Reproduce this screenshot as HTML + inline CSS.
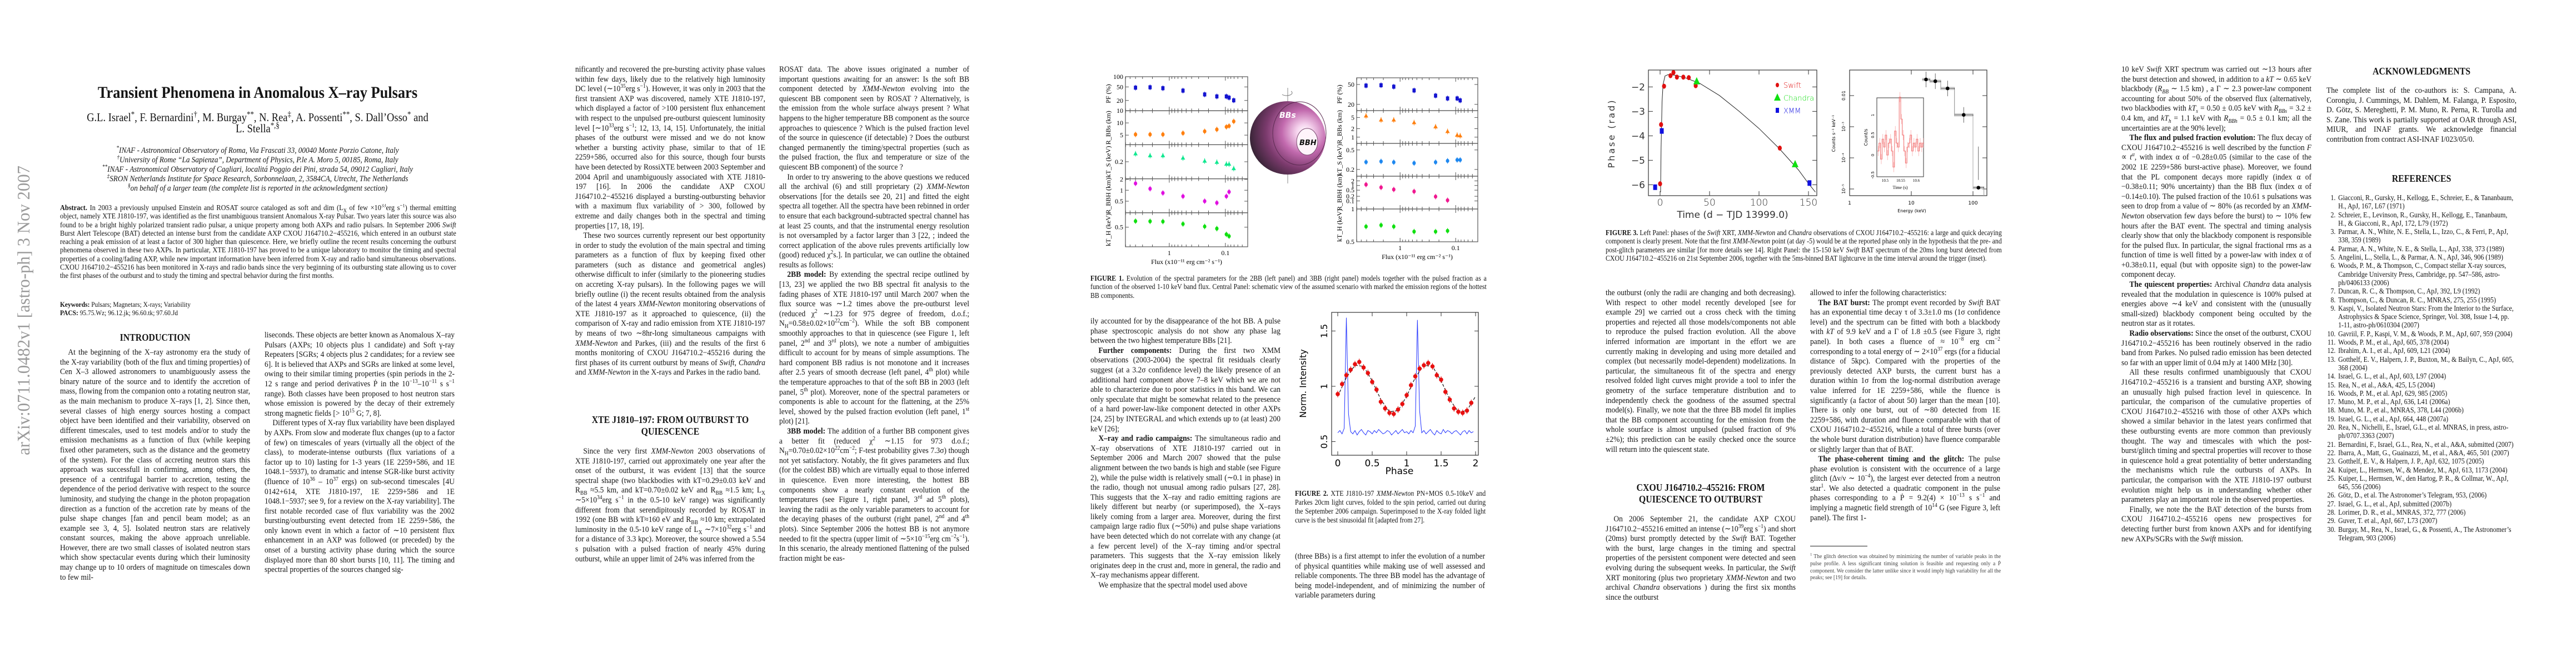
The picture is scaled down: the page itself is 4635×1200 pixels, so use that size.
<!DOCTYPE html>
<html lang="en"><head><meta charset="utf-8">
<style>
html,body{margin:0;padding:0;background:#fff;}
body{width:4635px;height:1200px;position:relative;overflow:hidden;font-family:"Liberation Serif",serif;color:#151515;}
.col{position:absolute;width:380px;transform:scaleX(0.9);transform-origin:0 0;font-size:15px;line-height:17.6px;text-align:justify;overflow:hidden;hyphens:auto;}
.col p{margin:0;text-indent:16px;}
.col p.ni{text-indent:0;}
.hd{position:absolute;width:342px;text-align:center;font-weight:bold;font-size:18px;line-height:21px;transform:scaleX(0.88);transform-origin:50% 0;}
.cap{position:absolute;transform:scaleX(0.88);transform-origin:0 0;font-size:13.5px;line-height:15.4px;text-align:justify;overflow:hidden;}
.ctr{position:absolute;left:0;width:927px;text-align:center;transform:scaleX(0.88);transform-origin:50% 0;}
sup,sub{font-size:70%;line-height:0;}
ol.refs{margin:0;padding-left:22px;}
ol.refs li{margin:0;padding-left:2px;}
</style></head>
<body>
<svg id="sidebar" width="80" height="1200" style="position:absolute;left:0;top:0">
<text x="0" y="0" transform="translate(53,819) rotate(-90)" font-family="Liberation Serif, serif" font-size="32" fill="#9a9a9a" textLength="521" lengthAdjust="spacingAndGlyphs">arXiv:0711.0482v1  [astro-ph]  3 Nov 2007</text>
</svg>

<!-- PAGE 1 -->
<div class="ctr" style="top:150px;font-size:30px;font-weight:bold;">Transient Phenomena in Anomalous X–ray Pulsars</div>
<div class="ctr" style="top:201px;font-size:21px;line-height:20px;">G.L. Israel<sup>*</sup>, F. Bernardini<sup>†</sup>, M. Burgay<sup>**</sup>, N. Rea<sup>‡</sup>, A. Possenti<sup>**</sup>, S. Dall’Osso<sup>*</sup> and<br>L. Stella<sup>*,§</sup></div>
<div class="ctr" style="top:263px;font-size:15px;line-height:17px;font-style:italic;">
<sup>*</sup>INAF - Astronomical Observatory of Roma, Via Frascati 33, 00040 Monte Porzio Catone, Italy<br>
<sup>†</sup>University of Rome “La Sapienza”, Department of Physics, P.le A. Moro 5, 00185, Roma, Italy<br>
<sup>**</sup>INAF - Astronomical Observatory of Cagliari, localitá Poggio dei Pini, strada 54, 09012 Cagliari, Italy<br>
<sup>‡</sup>SRON Netherlands Institute for Space Research, Sorbonnelaan, 2, 3584CA, Utrecht, The Netherlands<br>
<sup>§</sup>on behalf of a larger team (the complete list is reported in the acknowledgment section)</div>
<div class="cap" style="left:108px;top:367px;width:810px;height:160px;font-size:14px;line-height:15.3px;"><b>Abstract.</b> In 2003 a previously unpulsed Einstein and ROSAT source cataloged as soft and dim (L<sub>X</sub> of few ×10<sup>33</sup>erg s<sup>−1</sup>) thermal emitting object, namely XTE J1810-197, was identified as the first unambiguous transient Anomalous X-ray Pulsar. Two years later this source was also found to be a bright highly polarized transient radio pulsar, a unique property among both AXPs and radio pulsars. In September 2006 <i>Swift</i> Burst Alert Telescope (BAT) detected an intense burst from the candidate AXP CXOU J164710.2−455216, which entered in an outburst state reaching a peak emission of at least a factor of 300 higher than quiescence. Here, we briefly outline the recent results concerning the outburst phenomena observed in these two AXPs. In particular, XTE J1810-197 has proved to be a unique laboratory to monitor the timing and spectral properties of a cooling/fading AXP, while new important information have been inferred from X-ray and radio band simultaneous observations. CXOU J164710.2−455216 has been monitored in X-rays and radio bands since the very beginning of its outbursting state allowing us to cover the first phases of the outburst and to study the timing and spectral behavior during the first months.</div>
<div class="cap" style="left:108px;top:540px;width:600px;font-size:13px;line-height:15px;"><b>Keywords:</b> Pulsars; Magnetars; X-rays; Variability<br><b>PACS:</b> 95.75.Wz; 96.12.jk; 96.60.tk; 97.60.Jd</div>
<div class="hd" style="left:108px;top:597px;">INTRODUCTION</div>
<div class="col" style="left:108px;top:626px;height:463px;"><p>At the beginning of the X–ray astronomy era the study of the X-ray variability (both of the flux and timing properties) of Cen X–3 allowed astronomers to unambiguously assess the binary nature of the source and to identify the accretion of mass, flowing from the companion onto a rotating neutron star, as the main mechanism to produce X–rays [1, 2]. Since then, several classes of high energy sources hosting a compact object have been identified and their variability, observed on different timescales, used to test models and/or to study the emission mechanisms as a function of flux (while keeping fixed other parameters, such as the distance and the geometry of the system). For the class of accreting neutron stars this approach was successfull in confirming, among others, the presence of a centrifugal barrier to accretion, testing the dependence of the period derivative with respect to the source luminosity, and studying the change in the photon propagation direction as a function of the accretion rate by means of the pulse shape changes [fan and pencil beam model; as an example see 3, 4, 5]. Isolated neutron stars are relatively constant sources, making the above approach unreliable. However, there are two small classes of isolated neutron stars which show spectacular events during which their luminosity may change up to 10 orders of magnitude on timescales down to few mil-</p></div>
<div class="col" style="left:476px;top:595px;height:494px;"><p class="ni">liseconds. These objects are better known as Anomalous X–ray Pulsars (AXPs; 10 objects plus 1 candidate) and Soft γ-ray Repeaters [SGRs; 4 objects plus 2 candidates; for a review see 6]. It is believed that AXPs and SGRs are linked at some level, owing to their similar timing properties (spin periods in the 2-12 s range and period derivatives Ṗ in the 10<sup>−13</sup>–10<sup>−11</sup> s s<sup>−1</sup> range). Both classes have been proposed to host neutron stars whose emission is powered by the decay of their extremely strong magnetic fields [&gt; 10<sup>15</sup> G; 7, 8].</p><p>Different types of X-ray flux variability have been displayed by AXPs. From slow and moderate flux changes (up to a factor of few) on timescales of years (virtually all the object of the class), to moderate-intense outbursts (flux variations of a factor up to 10) lasting for 1-3 years (1E 2259+586, and 1E 1048.1−5937), to dramatic and intense SGR-like burst activity (fluence of 10<sup>36</sup> – 10<sup>37</sup> ergs) on sub-second timescales [4U 0142+614, XTE J1810-197, 1E 2259+586 and 1E 1048.1−5937; see 9, for a review on the X-ray variability]. The first notable recorded case of flux variability was the 2002 bursting/outbursting event detected from 1E 2259+586, the only known event in which a factor of ∼10 persistent flux enhancement in an AXP was followed (or preceded) by the onset of a bursting activity phase during which the source displayed more than 80 short bursts [10, 11]. The timing and spectral properties of the sources changed sig-</p></div>

<!-- PAGE 2 -->
<div class="col" style="left:1035px;top:117px;height:617px;"><p class="ni">nificantly and recovered the pre-bursting activity phase values within few days, likely due to the relatively high luminosity DC level (∼10<sup>35</sup>erg s<sup>−1</sup>). However, it was only in 2003 that the first transient AXP was discovered, namely XTE J1810-197, which displayed a factor of &gt;100 persistent flux enhancement with respect to the unpulsed pre-outburst quiescent luminosity level [∼10<sup>33</sup>erg s<sup>−1</sup>; 12, 13, 14, 15]. Unfortunately, the initial phases of the outburst were missed and we do not know whether a bursting activity phase, similar to that of 1E 2259+586, occurred also for this source, though four bursts have been detected by RossiXTE between 2003 September and 2004 April and unambiguously associated with XTE J1810-197 [16]. In 2006 the candidate AXP CXOU J164710.2−455216 displayed a bursting-outbursting behavior with a maximum flux variability of &gt; 300, followed by extreme and daily changes both in the spectral and timing properties [17, 18, 19].</p><p>These two sources currently represent our best opportunity in order to study the evolution of the main spectral and timing parameters as a function of flux by keeping fixed other parameters (such as distance and geometrical angles) otherwise difficult to infer (similarly to the pioneering studies on accreting X-ray pulsars). In the following pages we will briefly outline (i) the recent results obtained from the analysis of the latest 4 years <i>XMM-Newton</i> monitoring observations of XTE J1810-197 as it approached to quiescence, (ii) the comparison of X-ray and radio emission from XTE J1810-197 by means of two ∼8hr-long simultaneous campaigns with <i>XMM-Newton</i> and Parkes, (iii) and the results of the first 6 months monitoring of CXOU J164710.2−455216 during the first phases of its current outburst by means of <i>Swift</i>, <i>Chandra</i> and <i>XMM-Newton</i> in the X-rays and Parkes in the radio band.</p></div>
<div class="hd" style="left:1035px;top:745px;">XTE J1810–197: FROM OUTBURST TO QUIESCENCE</div>
<div class="col" style="left:1035px;top:804px;height:285px;"><p>Since the very first <i>XMM-Newton</i> 2003 observations of XTE J1810-197, carried out approximately one year after the onset of the outburst, it was evident [13] that the source spectral shape (two blackbodies with kT=0.29±0.03 keV and R<sub>BB</sub> ≈5.5 km, and kT=0.70±0.02 keV and R<sub>BB</sub> ≈1.5 km; L<sub>X</sub> ∼5×10<sup>34</sup>erg s<sup>−1</sup> in the 0.5-10 keV range) was significantly different from that serendipitously recorded by ROSAT in 1992 (one BB with kT≈160 eV and R<sub>BB</sub> ≈10 km; extrapolated luminosity in the 0.5-10 keV range of L<sub>X</sub> ∼7×10<sup>32</sup>erg s<sup>−1</sup> and for a distance of 3.3 kpc). Moreover, the source showed a 5.54 s pulsation with a pulsed fraction of nearly 45% during outburst, while an upper limit of 24% was inferred from the</p></div>
<div class="col" style="left:1402px;top:117px;height:972px;"><p class="ni">ROSAT data. The above issues originated a number of important questions awaiting for an answer: Is the soft BB component detected by <i>XMM-Newton</i> evolving into the quiescent BB component seen by ROSAT ? Alternatively, is the emission from the whole surface always present ? What happens to the higher temperature BB component as the source approaches to quiescence ? Which is the pulsed fraction level of the source in quiescence (if detectable) ? Does the outburst changed permanently the timing/spectral properties (such as the pulsed fraction, the flux and temperature or size of the quiescent BB component) of the source ?</p><p>In order to try answering to the above questions we reduced all the archival (6) and still proprietary (2) <i>XMM-Newton</i> observations [for the details see 20, 21] and fitted the eight spectra all together. All the spectra have been rebinned in order to ensure that each background-subtracted spectral channel has at least 25 counts, and that the instrumental energy resolution is not oversampled by a factor larger than 3 [22, ; indeed the correct application of the above rules prevents artificially low (good) reduced χ<sup>2</sup>s.]. In particular, we can outline the obtained results as follows:</p><p><b>2BB model:</b> By extending the spectral recipe outlined by [13, 23] we applied the two BB spectral fit analysis to the fading phases of XTE J1810-197 until March 2007 when the flux source was ∼1.2 times above the pre-outburst level (reduced χ<sup>2</sup> ∼1.23 for 975 degree of freedom, d.o.f.; N<sub>H</sub>=0.58±0.02×10<sup>22</sup>cm<sup>−2</sup>). While the soft BB component smoothly approaches to that in quiescence (see Figure 1, left panel, 2<sup>nd</sup> and 3<sup>rd</sup> plots), we note a number of ambiguities difficult to account for by means of simple assumptions. The hard component BB radius is not monotone and it increases after 2.5 years of smooth decrease (left panel, 4<sup>th</sup> plot) while the temperature approaches to that of the soft BB in 2003 (left panel, 5<sup>th</sup> plot). Moreover, none of the spectral parameters or components is able to account for the flattening, at the 25% level, showed by the pulsed fraction evolution (left panel, 1<sup>st</sup> plot) [21].</p><p><b>3BB model:</b> The addition of a further BB component gives a better fit (reduced χ<sup>2</sup> ∼1.15 for 973 d.o.f.; N<sub>H</sub>=0.70±0.02×10<sup>22</sup>cm<sup>−2</sup>; F-test probability gives 7.3σ) though not yet satisfactory. Notably, the fit gives parameters and flux (for the coldest BB) which are virtually equal to those inferred in quiescence. Even more interesting, the hottest BB components show a nearly constant evolution of the temperatures (see Figure 1, right panel, 3<sup>rd</sup> ad 5<sup>th</sup> plots), leaving the radii as the only variable parameters to account for the decaying phases of the outburst (right panel, 2<sup>nd</sup> and 4<sup>th</sup> plots). Since September 2006 the hottest BB is not anymore needed to fit the spectra (upper limit of ∼5×10<sup>−15</sup>erg cm<sup>−2</sup>s<sup>−1</sup>). In this scenario, the already mentioned flattening of the pulsed fraction might be eas-</p></div>

<!-- PAGE 3 -->
<div class="cap" style="left:1962px;top:493px;width:810px;height:48px;"><b>FIGURE 1.</b> Evolution of the spectral parameters for the 2BB (left panel) and 3BB (right panel) models together with the pulsed fraction as a function of the observed 1-10 keV band flux. Central Panel: schematic view of the assumed scenario with marked the emission regions of the hottest BB components.</div>
<div class="col" style="left:1962px;top:570px;height:519px;"><p class="ni">ily accounted for by the disappearance of the hot BB. A pulse phase spectroscopic analysis do not show any phase lag between the two highest temperature BBs [21].</p><p><b>Further components:</b> During the first two XMM observations (2003-2004) the spectral fit residuals clearly suggest (at a 3.2σ confidence level) the likely presence of an additional hard component above 7–8 keV which we are not able to characterize due to poor statistics in this band. We can only speculate that might be somewhat related to the presence of a hard power-law-like component detected in other AXPs [24, 25] by INTEGRAL and which extends up to (at least) 200 keV [26];</p><p><b>X–ray and radio campaigns:</b> The simultaneous radio and X–ray observations of XTE J1810-197 carried out in September 2006 and March 2007 showed that the pulse alignment between the two bands is high and stable (see Figure 2), while the pulse width is relatively small (∼0.1 in phase) in the radio, though not unusual among radio pulsars [27, 28]. This suggests that the X–ray and radio emitting ragions are likely different but nearby (or superimposed), the X–rays likely coming from a larger area. Moreover, during the first campaign large radio flux (∼50%) and pulse shape variations have been detected which do not correlate with any change (at a few percent level) of the X–ray timing and/or spectral parameters. This suggests that the X–ray emission likely originates deep in the crust and, more in general, the radio and X–ray mechanisms appear different.</p><p>We emphasize that the spectral model used above</p></div>
<div class="cap" style="left:2330px;top:880px;width:390px;height:82px;line-height:16px;"><b>FIGURE 2.</b> XTE J1810-197 <i>XMM-Newton</i> PN+MOS 0.5-10keV and Parkes 20cm light curves, folded to the spin period, carried out during the September 2006 campaign. Superimposed to the X-ray folded light curve is the best sinusoidal fit [adapted from 27].</div>
<div class="col" style="left:2330px;top:993px;height:96px;"><p class="ni">(three BBs) is a first attempt to infer the evolution of a number of physical quantities while making use of well assessed and reliable components. The three BB model has the advantage of being model-independent, and of minimizing the number of variable parameters during</p></div>

<!-- PAGE 4 -->
<div class="cap" style="left:2889px;top:411px;width:810px;height:80px;"><b>FIGURE 3.</b> Left Panel: phases of the <i>Swift</i> XRT, <i>XMM-Newton</i> and <i>Chandra</i> observations of CXOU J164710.2−455216: a large and quick decaying component is clearly present. Note that the first <i>XMM-Newton</i> point (at day -5) would be at the reported phase only in the hypothesis that the pre- and post-glitch parameters are similar [for more details see 14]. Right Panel: the 15-150 keV <i>Swift</i> BAT spectrum of the 20ms long burst detected from CXOU J164710.2−455216 on 21st September 2006, together with the 5ms-binned BAT lightcurve in the time interval around the trigger (inset).</div>
<div class="col" style="left:2889px;top:519px;height:316px;"><p class="ni">the outburst (only the radii are changing and both decreasing). With respect to other model recently developed [see for example 29] we carried out a cross check with the timing properties and rejected all those models/components not able to reproduce the pulsed fraction evolution. All the above inferred information are important in the effort we are currently making in developing and using more detailed and complex (but necessarily model-dependent) modelizations. In particular, the simultaneous fit of the spectra and energy resolved folded light curves might provide a tool to infer the geometry of the surface temperature distribution and to independently check the goodness of the assumed spectral model(s). Finally, we note that the three BB model fit implies that the BB component accounting for the emission from the whole sourface is almost unpulsed (pulsed fraction of 9%±2%); this prediction can be easily checked once the source will return into the quiescent state.</p></div>
<div class="hd" style="left:2889px;top:867px;">CXOU J164710.2–455216: FROM QUIESCENCE TO OUTBURST</div>
<div class="col" style="left:2889px;top:926px;height:163px;"><p>On 2006 September 21, the candidate AXP CXOU J164710.2−455216 emitted an intense (∼10<sup>39</sup>erg s<sup>−1</sup>) and short (20ms) burst promptly detected by the <i>Swift</i> BAT. Together with the burst, large changes in the timing and spectral properties of the persistent component were detected and seen evolving during the subsequent weeks. In particular, the <i>Swift</i> XRT monitoring (plus two proprietary <i>XMM-Newton</i> and two archival <i>Chandra</i> observations ) during the first six months since the outburst</p></div>
<div class="col" style="left:3257px;top:519px;height:440px;"><p class="ni">allowed to infer the following characteristics:</p><p><b>The BAT burst:</b> The prompt event recorded by <i>Swift</i> BAT has an exponential time decay τ of 3.3±1.0 ms (1σ confidence level) and the spectrum can be fitted with both a blackbody with <i>kT</i> of 9.9 keV and a Γ of 1.8 ±0.5 (see Figure 3, right panel). In both cases a fluence of ≈ 10<sup>−8</sup> erg cm<sup>−2</sup> corresponding to a total energy of ∼ 2×10<sup>37</sup> ergs (for a fiducial distance of 5kpc). Compared with the properties of the previously detected AXP bursts, the current burst has a duration within 1σ from the log-normal distribution average value inferred for 1E 2259+586, while the fluence is significantly (a factor of about 50) larger than the mean [10]. There is only one burst, out of ∼80 detected from 1E 2259+586, with duration and fluence comparable with that of CXOU J164710.2−455216, while a total of three bursts (over the whole burst duration distribution) have fluence comparable or slightly larger than that of BAT.</p><p><b>The phase-coherent timing and the glitch:</b> The pulse phase evolution is consistent with the occurrence of a large glitch (Δν/ν ∼ 10<sup>−4</sup>), the largest ever detected from a neutron star<sup>1</sup>. We also detected a quadratic component in the pulse phases corresponding to a Ṗ = 9.2(4) × 10<sup>−13</sup> s s<sup>−1</sup> and implying a magnetic field strength of 10<sup>14</sup> G (see Figure 3, left panel). The first 1-</p></div>
<div style="position:absolute;left:3257px;top:982px;width:103px;height:1px;background:#222;"></div>
<div class="cap" style="left:3257px;top:995px;width:390px;font-size:11px;line-height:12.8px;color:#444;"><sup>1</sup> The glitch detection was obtained by minimizing the number of variable peaks in the pulse profile. A less significant timing solution is feasible and requesting only a Ṗ component. We consider the latter unlike since it would imply high variability for all the peaks; see [19] for details.</div>

<!-- PAGE 5 -->
<div class="col" style="left:3817px;top:117px;height:952px;"><p class="ni">10 keV <i>Swift</i> XRT spectrum was carried out ∼13 hours after the burst detection and showed, in addition to a <i>kT</i> ∼ 0.65 keV blackbody (<i>R<sub>BB</sub></i> ∼ 1.5 km) , a Γ ∼ 2.3 power-law component accounting for about 50% of the observed flux (alternatively, two blackbodies with <i>kT<sub>s</sub></i> = 0.50 ± 0.05 keV with <i>R<sub>BBs</sub></i> = 3.2 ± 0.4 km, and <i>kT<sub>h</sub></i> = 1.1 keV with <i>R<sub>BBh</sub></i> = 0.5 ± 0.1 km; all the uncertainties are at the 90% level);</p><p><b>The flux and pulsed fraction evolution:</b> The flux decay of CXOU J164710.2−455216 is well described by the function <i>F</i> ∝ <i>t<sup>α</sup></i>, with index α of −0.28±0.05 (similar to the case of the 2002 1E 2259+586 burst-active phase). Moreover, we found that the PL component decays more rapidly (index α of −0.38±0.11; 90% uncertainty) than the BB flux (index α of −0.14±0.10). The pulsed fraction of the 10.61 s pulsations was seen to drop from a value of ∼ 80% (as recorded by an <i>XMM-Newton</i> observation few days before the burst) to ∼ 10% few hours after the BAT event. The spectral and timing analysis clearly show that only the blackbody component is responsible for the pulsed flux. In particular, the signal fractional rms as a function of time is well fitted by a power-law with index α of +0.38±0.11, equal (but with opposite sign) to the power-law component decay.</p><p><b>The quiescent properties:</b> Archival <i>Chandra</i> data analysis revealed that the modulation in quiescence is 100% pulsed at energies above ∼4 keV and consistent with the (unusually small-sized) blackbody component being occulted by the neutron star as it rotates.</p><p><b>Radio observations:</b> Since the onset of the outburst, CXOU J164710.2−455216 has been routinely observed in the radio band from Parkes. No pulsed radio emission has been detected so far with an upper limit of 0.04 mJy at 1400 MHz [30].</p><p>All these results confirmed unambiguously that CXOU J164710.2−455216 is a transient and bursting AXP, showing an unusually high pulsed fraction level in quiescence. In particular, the comparison of the cumulative properties of CXOU J164710.2−455216 with those of other AXPs which showed a similar behavior in the latest years confirmed that these outbursting events are more common than previously thought. The way and timescales with which the post-burst/glitch timing and spectral properties will recover to those in quiescence hold a great potentiality of better understanding the mechanisms which rule the outbursts of AXPs. In particular, the comparison with the XTE J1810-197 outburst evolution might help us in understanding whether other parameters play an important role in the observed properties.</p><p>Finally, we note the the BAT detection of the bursts from CXOU J164710.2−455216 opens new prospectives for detecting further burst from known AXPs and for identifying new AXPs/SGRs with the <i>Swift</i> mission.</p></div>
<div class="hd" style="left:4186px;top:118px;">ACKNOWLEDGMENTS</div>
<div class="col" style="left:4186px;top:155px;height:125px;"><p class="ni">The complete list of the co-authors is: S. Campana, A. Corongiu, J. Cummings, M. Dahlem, M. Falanga, P. Esposito, D. Götz, S. Mereghetti, P. M. Muno, R. Perna, R. Turolla and S. Zane. This work is partially supported at OAR through ASI, MIUR, and INAF grants. We acknowledge financial contribution from contract ASI-INAF I/023/05/0.</p></div>
<div class="hd" style="left:4186px;top:311px;">REFERENCES</div>
<div class="cap" style="left:4186px;top:348px;width:388px;height:716px;font-size:13.5px;line-height:15.3px;text-align:left;">
<ol class="refs">
<li>Giacconi, R., Gursky, H., Kellogg, E., Schreier, E., &amp; Tananbaum, H., ApJ, 167, L67 (1971)</li>
<li>Schreier, E., Levinson, R., Gursky, H., Kellogg, E., Tananbaum, H., &amp; Giacconi, R., ApJ, 172, L79 (1972)</li>
<li>Parmar, A. N., White, N. E., Stella, L., Izzo, C., &amp; Ferri, P., ApJ, 338, 359 (1989)</li>
<li>Parmar, A. N., White, N. E., &amp; Stella, L., ApJ, 338, 373 (1989)</li>
<li>Angelini, L., Stella, L., &amp; Parmar, A. N., ApJ, 346, 906 (1989)</li>
<li>Woods, P. M., &amp; Thompson, C., Compact stellar X-ray sources, Cambridge University Press, Cambridge, pp. 547–586, astro-ph/0406133 (2006)</li>
<li>Duncan, R. C., &amp; Thompson, C., ApJ, 392, L9 (1992)</li>
<li>Thompson, C., &amp; Duncan, R. C., MNRAS, 275, 255 (1995)</li>
<li>Kaspi, V., Isolated Neutron Stars: From the Interior to the Surface, Astrophysics &amp; Space Science, Springer, Vol. 308, Issue 1-4, pp. 1-11, astro-ph/0610304 (2007)</li>
<li>Gavriil, F. P., Kaspi, V. M., &amp; Woods, P. M., ApJ, 607, 959 (2004)</li>
<li>Woods, P. M., et al., ApJ, 605, 378 (2004)</li>
<li>Ibrahim, A. I., et al., ApJ, 609, L21 (2004)</li>
<li>Gotthelf, E. V., Halpern, J. P., Buxton, M., &amp; Bailyn, C., ApJ, 605, 368 (2004)</li>
<li>Israel, G. L., et al., ApJ, 603, L97 (2004)</li>
<li>Rea, N., et al., A&amp;A, 425, L5 (2004)</li>
<li>Woods, P. M., et al. ApJ, 629, 985 (2005)</li>
<li>Muno, M. P., et al., ApJ, 636, L41 (2006a)</li>
<li>Muno, M. P., et al., MNRAS, 378, L44 (2006b)</li>
<li>Israel, G. L., et al., ApJ, 664, 448 (2007a)</li>
<li>Rea, N., Nichelli, E., Israel, G.L., et al. MNRAS, in press, astro-ph/0707.3363 (2007)</li>
<li>Bernardini, F., Israel, G.L., Rea, N., et al., A&amp;A, submitted (2007)</li>
<li>Ibarra, A., Matt, G., Guainazzi, M., et al., A&amp;A, 465, 501 (2007)</li>
<li>Gotthelf, E. V., &amp; Halpern, J. P., ApJ, 632, 1075 (2005)</li>
<li>Kuiper, L., Hermsen, W., &amp; Mendez, M., ApJ, 613, 1173 (2004)</li>
<li>Kuiper, L., Hermsen, W., den Hartog, P. R., &amp; Collmar, W., ApJ, 645, 556 (2006)</li>
<li>Götz, D., et al. The Astronomer’s Telegram, 953, (2006)</li>
<li>Israel, G. L., et al., ApJ, submitted (2007b)</li>
<li>Lorimer, D. R., et al., MNRAS, 372, 777 (2006)</li>
<li>Guver, T. et al., ApJ, 667, L73 (2007)</li>
<li>Burgay, M., Rea, N., Israel, G., &amp; Possenti, A., The Astronomer’s Telegram, 903 (2006)</li>
</ol></div>

<svg id="figs" width="4635" height="1200" style="position:absolute;left:0;top:0;" font-family="Liberation Serif, serif">
<defs>
<radialGradient id="sph" cx="0.72" cy="0.42" r="0.85">
<stop offset="0" stop-color="#ffffff"/><stop offset="0.12" stop-color="#f6d4ee"/><stop offset="0.35" stop-color="#c26aae"/><stop offset="0.6" stop-color="#7a3a6c"/><stop offset="0.85" stop-color="#3a2538"/><stop offset="1" stop-color="#1a1e28"/>
</radialGradient>
</defs>
</svg>

<script>
// ---------- Figure 1 data ----------
const fluxLeft=[4.0,2.2,1.3,0.57,0.234,0.142,0.096,0.086,0.071];
const pfLeft=[47.6,48.8,45.9,39.0,30.1,26.3,26.3,24.2,20.2];
const rbbsLeft=[5.2,5.2,5.2,5.6,6.2,6.9,8.0,8.4,10.9];
const ktsLeft=[0.247,0.236,0.236,0.222,0.204,0.197,0.186,0.186,0.160];
const rbbhLeft=[1.54,1.10,0.84,0.68,0.50,0.45,0.68,0.90];
const kthLeft=[0.592,0.589,0.586,0.549,0.510,0.478,0.390,0.362];
const fluxRight=[4.1,2.2,1.3,0.56,0.23,0.14,0.094,0.083];
const pfRight=[47.5,48.3,45.2,38.0,29.9,26.3,26.3,24.0];
const rbbsRight=[5.7,4.1,4.1,3.3,2.35,1.6,1.18,1.12];
const ktsRight=[0.283,0.292,0.281,0.270,0.281,0.300,0.313,0.313];
const rbbhRight=[1.15,0.75,0.55,0.41,0.19,0.11];
const kthRight=[0.69,0.71,0.69,0.62,0.62,0.63];
const fluxTickLabels=[1,0.1];
// ---------- Figure 2 data ----------
const xrayPhase=[0,0.0625,0.125,0.1875,0.25,0.3125,0.375,0.4375,0.5,0.5625,0.625,0.6875,0.75,0.8125,0.875,0.9375,1,1.0625,1.125,1.1875,1.25,1.3125,1.375,1.4375,1.5,1.5625,1.625,1.6875,1.75,1.8125,1.875,1.9375];
const xrayVals=[0.93,1.02,1.10,1.15,1.20,1.22,1.17,1.12,1.04,0.97,0.86,0.80,0.76,0.75,0.79,0.84,0.92,1.01,1.09,1.16,1.19,1.21,1.18,1.10,1.06,0.95,0.88,0.80,0.77,0.76,0.78,0.85];
const fitPhase=[0,0.125,0.25,0.375,0.5,0.625,0.75,0.875,1,1.125,1.25,1.375,1.5,1.625,1.75,1.875,2];
const fitVals=[0.91,1.08,1.19,1.18,1.05,0.88,0.77,0.78,0.91,1.08,1.19,1.18,1.05,0.88,0.77,0.78,0.91];
const radioVals=[0.58,0.60,0.57,0.62,1.62,0.75,0.59,0.57,0.60,0.56,0.59,0.61,0.58,0.56,0.60,0.59,0.57,0.60,0.58,0.61,0.59,0.57,0.58,0.60,0.59,0.56,0.58,0.60,0.57,0.59,0.61,0.58,
0.59,0.57,0.60,0.58,0.64,1.60,0.78,0.58,0.60,0.57,0.59,0.61,0.58,0.56,0.60,0.58,0.57,0.61,0.58,0.60,0.59,0.57,0.59,0.60,0.58,0.56,0.59,0.60,0.57,0.60,0.58,0.59];
const phaseTicks=[0,0.5,1,1.5,2];
const normTicks=[0.5,1,1.5];
// ---------- Figure 3 data ----------
const swiftT=[0,1,4,10.5,13.5,17,23.5,29,36,121];
const swiftP=[-5.96,-3.54,-1.97,-1.54,-1.41,-1.6,-1.6,-1.62,-1.95,-4.5];
const chandraT=[37,136.5];
const chandraP=[-1.78,-5.17];
const xmmT=[-5,1.7,151];
const xmmP=[-6.1,-3.8,-5.93];
const modelT=[0.5,1,2,3,5,8,15,25,40,60,80,100,120,140,150,157];
const modelP=[-6.3,-4.5,-2.6,-1.9,-1.55,-1.5,-1.52,-1.62,-1.85,-2.35,-3.0,-3.7,-4.5,-5.4,-5.95,-6.3];
const timeTicks=[0,50,100,150];
const phaseRadTicks=[-2,-3,-4,-5,-6];
const energyEdges=[15,20,30,50,100,150];
const specVals=[0.033,0.029,0.017,0.0024,0.000011];
const energyTicks=[1,10,100];
const lcStart=10.475, lcStep=0.005;
const lcVals=[0.1,0.3,-0.1,0.4,0.2,0.5,0.0,0.3,0.4,0.1,-0.3,0.6,0.3,0.2,1.45,0.9,0.5,0.1,-0.2,0.2,0.3,0.5,0.1,0.3,0.2,0.4,0.1,0.3,0.2,0.3];
const lcTimeTicks=[10.5,10.55,10.6];
const lcRateTicks=[-0.5,0,0.5,1];

const NS='http://www.w3.org/2000/svg';
const svg=document.getElementById('figs');
function mk(tag,attrs,parent){const e=document.createElementNS(NS,tag);for(const k in attrs)e.setAttribute(k,attrs[k]);(parent||svg).appendChild(e);return e;}
function logS(d0,d1,r0,r1){const a=Math.log10(d0),b=Math.log10(d1);return v=>r0+(Math.log10(v)-a)/(b-a)*(r1-r0);}
function linS(d0,d1,r0,r1){return v=>r0+(v-d0)/(d1-d0)*(r1-r0);}
function txt(x,y,s,size,extra){const t=mk('text',Object.assign({x:x,y:y,'font-size':size},extra||{}));t.textContent=s;return t;}
function marker(shape,x,y,r,color){
  let e;
  if(shape==='sq') e=mk('rect',{x:x-r*0.8,y:y-r,width:r*1.6,height:r*2,fill:color});
  else if(shape==='tri') e=mk('polygon',{points:`${x},${y-r*1.2} ${x-r*1.1},${y+r*0.8} ${x+r*1.1},${y+r*0.8}`,fill:color});
  else e=mk('ellipse',{cx:x,cy:y,rx:r*0.85,ry:r,fill:color});
  return e;
}

// ---------- Figure 1 ----------
function fig1(x0,x1,top,h,flux,panels,prefix){
  const xs=logS(6.05,0.04,x0,x1);
  const minor=[0.04,0.05,0.06,0.07,0.08,0.09,0.1,0.2,0.3,0.4,0.5,0.6,0.7,0.8,0.9,1,2,3,4,5,6];
  panels.forEach((p,i)=>{
    const y0=top+i*h,y1=y0+h;
    const ys=(p.log?logS:linS)(p.lo,p.hi,y1,y0);
    const fr=mk('rect',{x:x0,y:y0,width:x1-x0,height:h,fill:'none',stroke:'#555','stroke-width':1.2});
    
    
    minor.forEach(f=>{
      const len=(f===1||f===0.1)?7:4;
      const tk=mk('path',{d:`M${xs(f)},${y0}v${len}M${xs(f)},${y1}v${-len}`,stroke:'#555','stroke-width':1});
      
      
    });
    p.ticks.forEach(t=>{
      const ty=ys(t);
      const tk=mk('path',{d:`M${x0},${ty}h6M${x1},${ty}h-6`,stroke:'#555','stroke-width':1});
      
      
      const tl=txt(x0-4,ty+4,String(t),12,{'text-anchor':'end'});
      
      
    });
    const yl=txt(0,0,p.label,12,{'text-anchor':'middle',transform:`translate(${x0-27},${y0+h/2}) rotate(-90)`});
    
    
    p.vals.forEach((v,j)=>{
      const cx=xs(flux[j]),cy=ys(v);
      const eb=mk('path',{d:`M${cx},${cy-5}v10`,stroke:p.color,'stroke-width':1});
      
      
      const m=marker(p.shape,cx,cy,3.6,p.color);
      
      
    });
  });
  fluxTickLabels.forEach(f=>{
    const tl=txt(xs(f),top+5*h+15,String(f),12,{'text-anchor':'middle'});
    
    
  });
  const xl=txt((x0+x1)/2,top+5*h+31,'Flux (x10⁻¹¹ erg cm⁻² s⁻¹)',12,{'text-anchor':'middle'});
  
  
}
fig1(2025,2245,138,61.2,fluxLeft,[
 {vals:pfLeft,log:true,lo:10,hi:100,ticks:[100,50,20,10],label:'PF (%)',color:'#1414d0',shape:'sq'},
 {vals:rbbsLeft,log:true,lo:2.9,hi:20,ticks:[10,5],label:'R_BBs (km)',color:'#ff8010',shape:'c'},
 {vals:ktsLeft,log:false,lo:0.1,hi:0.3,ticks:[0.2],label:'kT_S (keV)',color:'#10e890',shape:'tri'},
 {vals:rbbhLeft,log:true,lo:0.24,hi:2.07,ticks:[2,1,0.5],label:'R_BBH (km)',color:'#e010e0',shape:'c'},
 {vals:kthLeft,log:false,lo:0.2,hi:0.72,ticks:[0.5],label:'kT_H (keV)',color:'#10e010',shape:'c'}
],'fig1-left');
fig1(2441,2659,140,59,fluxRight,[
 {vals:pfRight,log:true,lo:15,hi:68,ticks:[50,20],label:'PF (%)',color:'#1414d0',shape:'sq'},
 {vals:rbbsRight,log:true,lo:0.6,hi:8.8,ticks:[5,2,1],label:'R_BBs (km)',color:'#ff8010',shape:'tri'},
 {vals:ktsRight,log:true,lo:0.146,hi:0.68,ticks:[0.5,0.2],label:'kT_S (keV)',color:'#1e88f0',shape:'c'},
 {vals:rbbhRight,log:true,lo:0.03,hi:4,ticks:[2,1,0.5,0.2,0.1],label:'R_BBH (km)',color:'#f01890',shape:'c'},
 {vals:kthRight,log:true,lo:0.5,hi:1,ticks:[1,0.5],label:'kT_H (keV)',color:'#10e010',shape:'c'}
],'fig1-right');

// sphere schematic
const axl=mk('path',{d:'M2317,158V330',stroke:'#888','stroke-width':1});


const sp=mk('ellipse',{cx:2317,cy:248,rx:68,ry:66,fill:'url(#sph)'});


const bbs=mk('ellipse',{cx:2338,cy:240,rx:48,ry:57,fill:'none',stroke:'#5a2a50','stroke-width':1});


const bbh=mk('ellipse',{cx:2352,cy:255,rx:19,ry:24,fill:'#fff4fb',stroke:'#7a4a70','stroke-width':1});


const rot=mk('path',{d:'M2307,170a10,5 0 1,0 16,-6',fill:'none',stroke:'#777','stroke-width':1});


const bbsT=txt(2302,212,'BBs',14,{fill:'#fff','font-style':'italic','font-weight':'bold','font-family':'DejaVu Sans, sans-serif'});


const bbhT=txt(2338,261,'BBH',13,{fill:'#111','font-style':'italic','font-weight':'bold','font-family':'DejaVu Sans, sans-serif'});



// ---------- Figure 2 ----------
(function(){
  const x0=2396,x1=2660,y0=562,y1=819;
  const xs=linS(0,2,2407,2655), ys=linS(1,1.5,695,595.5);
  const fr=mk('rect',{x:x0,y:y0,width:x1-x0,height:y1-y0,fill:'none',stroke:'#333','stroke-width':1.2});
  
  
  phaseTicks.forEach(p=>{
    const tk=mk('path',{d:`M${xs(p)},${y1}v-7M${xs(p)},${y0}v7`,stroke:'#333'});
    
    
    const tl=txt(xs(p),y1+20,String(p),17,{'text-anchor':'middle','font-family':'DejaVu Sans, sans-serif'});
    
    
  });
  normTicks.forEach(v=>{
    const tk=mk('path',{d:`M${x0},${ys(v)}h7M${x1},${ys(v)}h-7`,stroke:'#333'});
    
    
    const tl=txt(0,0,String(v),16,{'text-anchor':'middle','font-family':'DejaVu Sans, sans-serif',transform:`translate(${x0-8},${ys(v)}) rotate(-90)`});
    
    
  });
  const xt=txt((x0+x1)/2-10,853,'Phase',17,{'text-anchor':'middle','font-family':'DejaVu Sans, sans-serif'});
  
  
  const yt=txt(0,0,'Norm. Intensity',16,{'text-anchor':'middle','font-family':'DejaVu Sans, sans-serif',transform:`translate(2350,690) rotate(-90)`});
  
  
  const rd=mk('polyline',{points:radioVals.map((v,i)=>`${xs(i*2/radioVals.length)},${ys(v)}`).join(' '),fill:'none',stroke:'#2233ff','stroke-width':1});
  
  
  const ft=mk('polyline',{points:fitPhase.map((p,i)=>`${xs(p)},${ys(fitVals[i])}`).join(' '),fill:'none',stroke:'#111','stroke-width':1.2,'stroke-dasharray':'5,3'});
  
  
  xrayPhase.forEach((p,i)=>{
    const cx=xs(p),cy=ys(xrayVals[i]);
    const eb=mk('path',{d:`M${cx},${cy-6}v12M${cx-3.5},${cy}h7`,stroke:'#e01010'});
    
    
    const c=mk('circle',{cx:cx,cy:cy,r:3.8,fill:'#e81010'});
    
    
  });
})();

// ---------- Figure 3 left ----------
(function(){
  const x0=2966,x1=3269,y0=126,y1=352;
  const xs=linS(0,50,2987,3076), ys=linS(-2,-3,156.4,200.4);
  const fr=mk('rect',{x:x0,y:y0,width:x1-x0,height:y1-y0,fill:'none',stroke:'#333','stroke-width':1.2});
  
  
  timeTicks.forEach(t=>{
    const tk=mk('path',{d:`M${xs(t)},${y1}v-8M${xs(t)},${y0}v8`,stroke:'#333'});
    
    
    const tl=txt(xs(t),y1+18,String(t),17,{'text-anchor':'middle','font-family':'DejaVu Sans, sans-serif','font-weight':'200',fill:'#333'});
    
    
  });
  phaseRadTicks.forEach(v=>{
    const tk=mk('path',{d:`M${x0},${ys(v)}h8M${x1},${ys(v)}h-8`,stroke:'#333'});
    
    
    const tl=txt(x0-6,ys(v)+6,'−'+Math.abs(v),17,{'text-anchor':'end','font-family':'DejaVu Sans, sans-serif',fill:'#333'});
    
    
  });
  const xt=txt((x0+x1)/2,392,'Time (d − TJD 13999.0)',17,{'text-anchor':'middle','font-family':'DejaVu Sans, sans-serif',fill:'#333'});
  
  
  const yt=txt(0,0,'Phase (rad)',16,{'text-anchor':'middle','font-family':'DejaVu Sans, sans-serif',fill:'#333','letter-spacing':'3',transform:`translate(2905,240) rotate(-90)`});
  
  
  const md=mk('polyline',{points:modelT.map((t,i)=>`${xs(t)},${Math.min(y1,ys(modelP[i]))}`).join(' '),fill:'none',stroke:'#222','stroke-width':1});
  
  
  swiftT.forEach((t,i)=>{
    const c=mk('ellipse',{cx:xs(t),cy:ys(swiftP[i]),rx:3.6,ry:4.5,fill:'#e01010'});
    
    
  });
  chandraT.forEach((t,i)=>{
    const cx=xs(t),cy=ys(chandraP[i]);
    const m=mk('polygon',{points:`${cx},${cy-8} ${cx-6},${cy+5} ${cx+6},${cy+5}`,fill:'#10e010'});
    
    
  });
  xmmT.forEach((t,i)=>{
    const cx=xs(t),cy=ys(xmmP[i]);
    const m=mk('rect',{x:cx-3.5,y:cy-5,width:7,height:10,fill:'#1010e0'});
    
    
  });
  const leg=[['Swift','#e01010','c',158],['Chandra','#10e010','t',181],['XMM','#1010e0','s',204]];
  leg.forEach(l=>{
    let m;
    if(l[2]==='c') m=mk('ellipse',{cx:3198,cy:l[3]-5,rx:3,ry:4,fill:l[1]});
    else if(l[2]==='t') m=mk('polygon',{points:`3198,${l[3]-13} 3192,${l[3]} 3204,${l[3]}`,fill:l[1]});
    else m=mk('rect',{x:3195,y:l[3]-10,width:6,height:9,fill:l[1]});
    
    
    const t=txt(3209,l[3],l[0],13,{fill:l[1],'font-family':'DejaVu Sans, sans-serif','font-weight':'200'});
    
    
  });
})();

// ---------- Figure 3 right ----------
(function(){
  const x0=3328,x1=3575,y0=126,y1=352;
  const xs=logS(1,10,3328,3439), ys=logS(0.01,0.001,172,228);
  const fr=mk('rect',{x:x0,y:y0,width:x1-x0,height:y1-y0,fill:'none',stroke:'#333','stroke-width':1.2});
  
  
  energyTicks.forEach(e=>{
    const tk=mk('path',{d:`M${xs(e)},${y1}v-8M${xs(e)},${y0}v8`,stroke:'#333'});
    
    
    const tl=txt(xs(e),y1+16,String(e),9,{'text-anchor':'middle','font-family':'DejaVu Sans, sans-serif'});
    
    
  });
  [[0.01,'0.01'],[0.001,'10⁻³'],[0.0001,'10⁻⁴'],[0.00001,'10⁻⁵']].forEach(v=>{
    const tk=mk('path',{d:`M${x0},${ys(v[0])}h8M${x1},${ys(v[0])}h-8`,stroke:'#333'});
    
    
    const tl=txt(0,0,v[1],8,{'text-anchor':'middle','font-family':'DejaVu Sans, sans-serif',transform:`translate(${x0-8},${ys(v[0])}) rotate(-90)`});
    
    
  });
  const xt=txt(3440,382,'Energy (keV)',8,{'text-anchor':'middle','font-family':'DejaVu Sans, sans-serif'});
  
  
  const yt=txt(0,0,'Counts s⁻¹ keV⁻¹',8,{'text-anchor':'middle','font-family':'DejaVu Sans, sans-serif',transform:`translate(3302,240) rotate(-90)`});
  
  
  [-2,0,2].forEach(off=>{
    let d='';
    specVals.forEach((v,i)=>{d+=(i?'L':'M')+xs(energyEdges[i])+','+(ys(v)+off)+'H'+xs(energyEdges[i+1]);});
    d+='V'+y1;
    const st=mk('path',{d:d,fill:'none',stroke:off?'#aaa':'#333','stroke-width':1});
    
    
  });
  specVals.forEach((v,i)=>{
    const cx=xs(Math.sqrt(energyEdges[i]*energyEdges[i+1])),cy=ys(v);
    const eb=mk('path',{d:`M${cx},${cy-14}v${i===4?-60:28}M${cx},${cy}v${i===4?0:14}`,stroke:'#444','stroke-width':0.8});
    
    
    const c=mk('circle',{cx:cx,cy:cy,r:3.3,fill:'#000'});
    
    
  });
  // inset
  const ix0=3377,ix1=3461,iy0=176,iy1=318;
  const ixs=linS(10.5,10.6,3392,3448), iys=linS(0,1,279,207);
  const ifr=mk('rect',{x:ix0,y:iy0,width:ix1-ix0,height:iy1-iy0,fill:'#fff',stroke:'#333','stroke-width':1});
  
  
  let d='';
  lcVals.forEach((v,i)=>{const t=lcStart+i*lcStep;d+=(i?'L':'M')+ixs(t)+','+iys(v)+'H'+ixs(t+lcStep);});
  const lc=mk('path',{d:d,fill:'none',stroke:'#f06a6a','stroke-width':1});
  
  
  lcVals.forEach((v,i)=>{
    const cx=ixs(lcStart+(i+0.5)*lcStep);
    const eb=mk('path',{d:`M${cx},${iys(v)-9}v18`,stroke:'#f8a0a0','stroke-width':0.7});
    
    
  });
  lcTimeTicks.forEach(t=>{
    const tl=txt(ixs(t),iy1+9,String(t),7,{'text-anchor':'middle'});
    
    
  });
  lcRateTicks.forEach(v=>{
    const tl=txt(0,0,String(v),7,{'text-anchor':'middle','font-family':'DejaVu Sans, sans-serif',transform:`translate(${ix0-5},${iys(v)}) rotate(-90)`});
    
    
  });
  const ixt=txt(3419,340,'Time (s)',8,{'text-anchor':'middle'});
  
  
  const iyt=txt(0,0,'Count/s',8,{'text-anchor':'middle','font-family':'DejaVu Sans, sans-serif',transform:`translate(3360,247) rotate(-90)`});
  
  
})();
</script>
</body></html>
